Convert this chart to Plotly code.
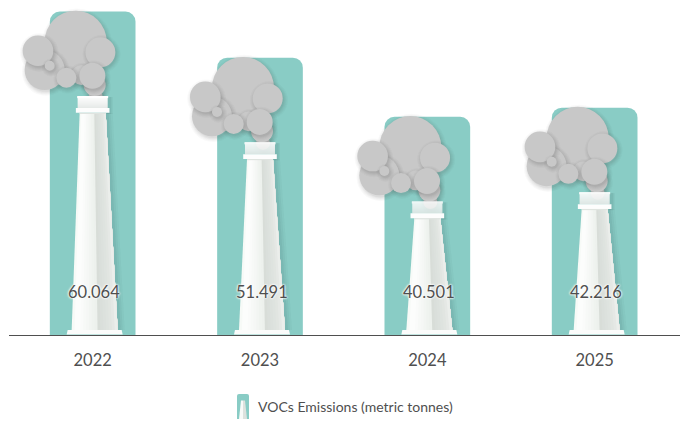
import plotly.graph_objects as go

years = ["2022", "2023", "2024", "2025"]
emissions = [60.064, 51.491, 40.501, 42.216]
value_labels = ["60.064", "51.491", "40.501", "42.216"]
series_name = "VOCs Emissions (metric tonnes)"

W, H = 688, 429
M_L, M_R, M_T, M_B = 9, 8, 0, 94
Y_MAX = 62.2
PX_PER_UNIT = (H - M_T - M_B) / Y_MAX
TEAL = "#89ccc5"
INK = "#4f4f4f"
SMOKE = "#c8c8c8"

# smoke puffs: (dx, dy below bar top, r), back to front
PUFFS = [(3, 85.2, 7), (2, 73.5, 11), (-17, 30.2, 31), (-48, 58.5, 20), (-54.7, 39.2, 15.3),
         (-43, 54.2, 5), (7.7, 40.8, 15), (-11.3, 63.5, 10), (-26.3, 66.2, 10), (-0.3, 64.2, 13)]

shapes = []


def add(cat, anchor, **kw):
    shapes.append(dict(xref="x", yref="y", xsizemode="pixel", ysizemode="pixel",
                       xanchor=cat, yanchor=anchor, **kw))


def poly(cat, anchor, pts, fill):
    d = "M" + " L".join(f"{x:.2f},{-y:.2f}" for x, y in pts) + " Z"
    add(cat, anchor, type="path", path=d, fillcolor=fill, line_width=0)


def rect(cat, anchor, x0, x1, y0, y1, fill):
    add(cat, anchor, type="rect", x0=x0, x1=x1, y0=-y0, y1=-y1, fillcolor=fill, line_width=0)


def circle(cat, anchor, cx, cy, r, fill):
    add(cat, anchor, type="circle", x0=cx - r, x1=cx + r, y0=-(cy - r), y1=-(cy + r),
        fillcolor=fill, line_width=0)


def lerp(a, b, t):
    return a + (b - a) * t


def mix(c0, c1, t):
    return "rgb(%d,%d,%d)" % tuple(round(lerp(p, q, t)) for p, q in zip(c0, c1))


def chimney_color(t):
    if t < 0.12:
        return mix((244, 248, 245), (254, 254, 254), t / 0.12)
    if t < 0.55:
        return mix((254, 254, 254), (236, 240, 236), (t - 0.12) / 0.43)
    if t < 0.88:
        return mix((214, 220, 215), (226, 230, 226), (t - 0.55) / 0.33)
    return mix((226, 230, 226), (238, 241, 238), (t - 0.88) / 0.12)


STRIPS = 16
for cat, val in enumerate(emissions):
    # everything here hangs from the top of the bar, in pixels
    top_off = 101.5
    bottom_off = val * PX_PER_UNIT - 5
    xl0, xr0, xl1, xr1 = -13, 13, -21, 25

    # chimney shadow on the teal
    for w, a in ((7, .04), (5, .05), (3, .06)):
        poly(cat, val, [(xr0, top_off), (xr0 + w, top_off), (xr1 + w, bottom_off), (xr1, bottom_off)],
             f"rgba(40,70,70,{a})")
    # chimney body: each strip runs to the right edge and the next paints over it
    for i in range(STRIPS):
        a = i / STRIPS
        poly(cat, val, [(lerp(xl0, xr0, a), top_off), (xr0, top_off),
                        (xr1, bottom_off), (lerp(xl1, xr1, a), bottom_off)],
             chimney_color(a + 0.5 / STRIPS))
    # plinth
    poly(cat, val, [(-26, bottom_off + 4.5), (-25, bottom_off), (29, bottom_off), (30, bottom_off + 4.5)], "#fbfcfb")

    # smoke with soft shadows
    for dx, dy, r in PUFFS:
        for grow, alpha in ((4, .025), (3, .03), (2, .035), (1, .04), (0, .05)):
            circle(cat, val, dx + 1.2, dy + 1.8, r + grow, f"rgba(50,60,60,{alpha})")
        circle(cat, val, dx, dy, r, SMOKE)

    # cap
    for w, a in ((4, .06), (2.5, .08)):
        rect(cat, val, 14, 16 + w, 85.5, 102.5, f"rgba(40,70,70,{a})")
    bands = ["#ffffff", "#ffffff", "#fafbfa", "#f8f9f8", "#f6f7f7", "#f4f5f5", "#f2f4f3", "#f0f2f1",
             "#eef0ef", "#ebeeed", "#e9eceb", "#e6eae8"]
    for i, c in enumerate(bands):
        rect(cat, val, -15.5 if i < 2 else -15, 15.5 if i < 2 else 15, 84.5 + i, 85.7 + i, c)
    rect(cat, val, -16.8, 16.8, 96.5, 101.3, "#fdfdfd")
    rect(cat, val, -13, 13, 101.3, 102.5, "#dfe4e0")


def px_x(p):
    return (p - M_L) / (W - M_L - M_R)


def px_y(p):
    return (H - M_B - p) / (H - M_T - M_B)


# legend key
LEG_X = px_x(243)
LEG_Y = px_y(394)


def leg(**kw):
    shapes.append(dict(xref="paper", yref="paper", xsizemode="pixel", ysizemode="pixel",
                       xanchor=LEG_X, yanchor=LEG_Y, line_width=0, **kw))


leg(type="path", path="M-6,-25 L-6,-2 Q-6,0 -4,0 L4,0 Q6,0 6,-2 L6,-25 Z", fillcolor=TEAL)
leg(type="path", path="M-2,-6.5 L0,-6.5 L0,-25 L-4,-25 Z", fillcolor="#f8faf8")
leg(type="path", path="M0,-6.5 L2,-6.5 L4,-25 L0,-25 Z", fillcolor="#dde2de")

annotations = [
    dict(x=i, y=0, xref="x", yref="y", yshift=43, xshift=1.5, text=t, showarrow=False,
         font=dict(family="Lato", size=16.5, color=INK,
                   shadow="0 0 2px #ffffff, 0 0 2px #ffffff, 0 0 3px #ffffff"))
    for i, t in enumerate(value_labels)
]
annotations.append(dict(x=px_x(256), y=px_y(406.5), xref="paper", yref="paper", xanchor="left",
                        yanchor="middle", text=series_name, showarrow=False,
                        font=dict(family="Lato", size=14, color=INK)))

fig = go.Figure(go.Bar(x=years, y=emissions, name=series_name, width=0.512,
                       marker=dict(color=TEAL, cornerradius=10, line_width=0),
                       showlegend=False, hoverinfo="x+y"))
fig.update_layout(
    width=W, height=H, margin=dict(l=M_L, r=M_R, t=M_T, b=M_B, pad=0),
    paper_bgcolor="#ffffff", plot_bgcolor="#ffffff",
    font=dict(family="Lato", color=INK),
    shapes=shapes, annotations=annotations, showlegend=False,
    xaxis=dict(type="category", categoryorder="array", categoryarray=years, range=[-0.5, 3.51],
               showgrid=False, showline=True, linecolor=INK, linewidth=1.3, ticks="",
               tickfont=dict(family="Lato", size=16.5, color=INK), ticklabelstandoff=10),
    yaxis=dict(range=[0, Y_MAX], visible=False),
)
fig.write_html("out.html", config=dict(displayModeBar=False),
               post_script="document.body.style.margin='0';")
